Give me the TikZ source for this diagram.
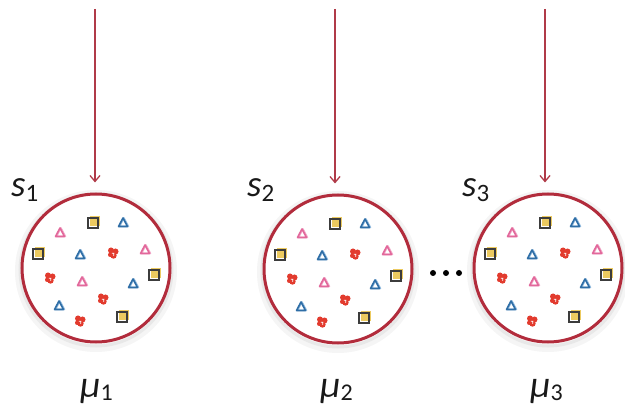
\documentclass[tikz,border=0pt]{standalone}
\usepackage{fontspec}
\setmainfont{Carlito}
\usetikzlibrary{arrows.meta,calc}
\definecolor{ringred}{RGB}{178,44,60}
\definecolor{arrred}{RGB}{176,58,72}
\definecolor{sqgray}{RGB}{60,60,60}
\definecolor{sqyel}{RGB}{236,202,96}
\definecolor{triblue}{RGB}{47,110,166}
\definecolor{triblueL}{RGB}{150,190,225}
\definecolor{tripink}{RGB}{226,104,155}
\definecolor{tripinkL}{RGB}{242,172,202}
\definecolor{blobred}{RGB}{226,59,46}
\tikzset{
  bigc/.style={circle, draw=ringred, line width=3pt, minimum size=148pt, inner sep=0pt, fill=white},
  arr/.style={draw=arrred, line width=1.3pt, -{Straight Barb[length=6pt,width=10pt]}},
  lbl/.style={anchor=base west, inner sep=0pt, text=black!90},
  dotn/.style={circle, fill=black, minimum size=6pt, inner sep=0pt},
  pics/boxsym/.style={code={
    \fill[sqyel] (-3.5,-6.5) rectangle (6.5,3.5);
    \draw[sqgray, line width=1.8pt] (-5,-5) rectangle (5,5);
  }},
  pics/btri/.style={code={
    \draw[triblueL, line width=1.5pt, line join=round] (1,-5) -- (-3.5,3.5) -- (5.5,3.5) -- cycle;
    \draw[triblue, line width=1.6pt, line join=round] (0,-5) -- (-4.5,3.5) -- (4.5,3.5) -- cycle;
  }},
  pics/ptri/.style={code={
    \draw[tripinkL, line width=1.5pt, line join=round] (1,-5) -- (-3.5,3.5) -- (5.5,3.5) -- cycle;
    \draw[tripink, line width=1.6pt, line join=round] (0,-5) -- (-4.5,3.5) -- (4.5,3.5) -- cycle;
  }},
  pics/blob/.style={code={
    \fill[blobred] (-2,-2.5) circle (3);
    \fill[blobred] (2.5,-1.5) circle (3);
    \fill[blobred] (0.5,2.5) circle (3.2);
    \fill[blobred] (-2.8,1.8) circle (2.2);
    \draw[white, line width=0.8pt] (-1.2,0.2) .. controls (0.5,-1) and (2,0.8) .. (0.6,2.6);
  }},
}
\newcommand{\fillcircle}[1]{%
  \foreach \dx/\dy in {-3/-45, -58/-14, 58/7, 26/49} {\pic at ($(#1)+(\dx,\dy)$) {boxsym};}
  \foreach \dx/\dy in {27/-45, -16/-13, 37/16, -37/38} {\pic at ($(#1)+(\dx,\dy)$) {btri};}
  \foreach \dx/\dy in {-36/-35, 49/-18, -14/14} {\pic at ($(#1)+(\dx,\dy)$) {ptri};}
  \foreach \dx/\dy in {17/-15, -46/10, 7/31, -16/53} {\pic at ($(#1)+(\dx,\dy)$) {blob};}
}
\begin{document}
\begin{tikzpicture}[x=1pt, y=-1pt]
\useasboundingbox (0,0) rectangle (625,409);
\coordinate (p1) at (96,268);
\coordinate (p2) at (338,269);
\coordinate (p3) at (548,268);
% soft shadows
\foreach \p in {p1,p2,p3} {
  \draw[black!4, line width=8pt] ($(\p)+(0,3)$) circle (77);
  \draw[black!9, line width=3pt] ($(\p)+(0,2)$) circle (76);
}
\node[bigc] (c1) at (p1) {};
\node[bigc] (c2) at (p2) {};
\node[bigc] (c3) at (p3) {};
\fillcircle{c1.center}
\fillcircle{c2.center}
\fillcircle{c3.center}
% arrows
\coordinate (t1) at (95,9);
\coordinate (t2) at (335,9);
\coordinate (t3) at (545,9);
\draw[arr, shorten >=10pt] (t1) -- (t1 |- c1.north);
\draw[arr, shorten >=10pt] (t2) -- (t2 |- c2.north);
\draw[arr, shorten >=10pt] (t3) -- (t3 |- c3.north);
% dots
\node[dotn] (d1) at (433,273) {};
\node[dotn] (d2) at (446,273) {};
\node[dotn] (d3) at (459,273) {};
% labels
\node[lbl] (s1) at (11,197) {\fontsize{37}{40}\selectfont\itshape s\/\raisebox{-5pt}{\fontsize{25}{26}\selectfont\upshape 1}};
\node[lbl] (s2) at (247,197) {\fontsize{37}{40}\selectfont\itshape s\/\raisebox{-5pt}{\fontsize{25}{26}\selectfont\upshape 2}};
\node[lbl] (s3) at (462,197) {\fontsize{37}{40}\selectfont\itshape s\/\raisebox{-5pt}{\fontsize{25}{26}\selectfont\upshape 3}};
\node[lbl] (m1) at (80,398) {\fontsize{38}{42}\selectfont\itshape μ\/\raisebox{-3pt}{\fontsize{24}{26}\selectfont\upshape 1}};
\node[lbl] (m2) at (320,398) {\fontsize{38}{42}\selectfont\itshape μ\/\raisebox{-3pt}{\fontsize{24}{26}\selectfont\upshape 2}};
\node[lbl] (m3) at (530,398) {\fontsize{38}{42}\selectfont\itshape μ\/\raisebox{-3pt}{\fontsize{24}{26}\selectfont\upshape 3}};
\end{tikzpicture}
\end{document}
